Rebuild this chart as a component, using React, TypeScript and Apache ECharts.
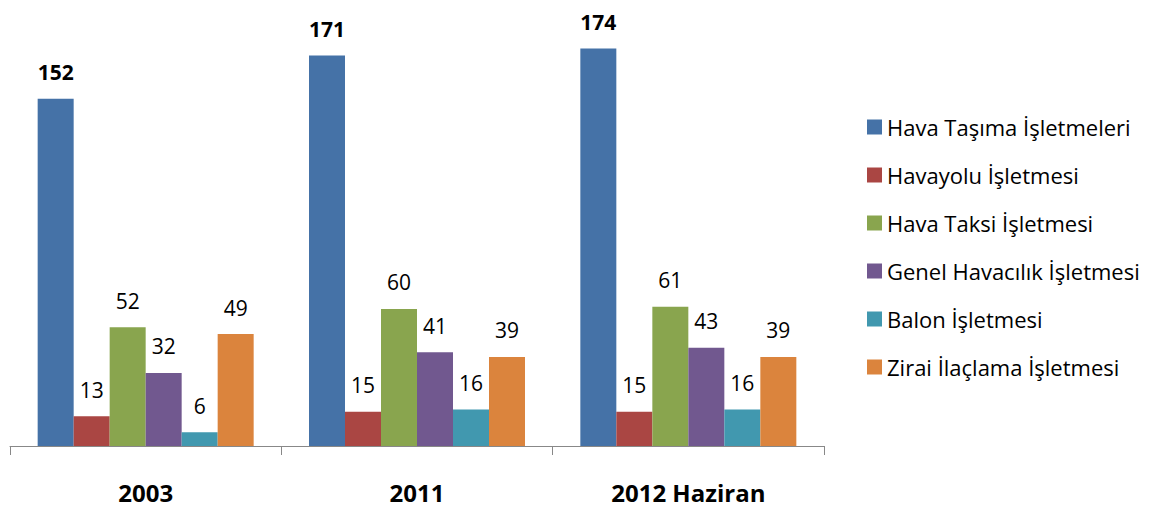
import React, { useEffect, useRef } from "react";
import * as echarts from "echarts";

const categories = ["2003", "2011", "2012 Haziran"];
const seriesNames = [
  "Hava Taşıma İşletmeleri",
  "Havayolu İşletmesi",
  "Hava Taksi İşletmesi",
  "Genel Havacılık İşletmesi",
  "Balon İşletmesi",
  "Zirai İlaçlama İşletmesi",
];
const havaTasima = [152, 171, 174];
const havayolu = [13, 15, 15];
const havaTaksi = [52, 60, 61];
const genelHavacilik = [32, 41, 43];
const balon = [6, 16, 16];
const zirai = [49, 39, 39];
const seriesValues = [havaTasima, havayolu, havaTaksi, genelHavacilik, balon, zirai];
const colors = ["#4572A7", "#AA4643", "#89A54E", "#71588F", "#4198AF", "#DB843D"];

const FONT = "'Open Sans', sans-serif";

export default function App() {
  const ref = useRef<HTMLDivElement>(null);
  useEffect(() => {
    if (!ref.current) return;
    const chart = echarts.init(ref.current, undefined, { renderer: "svg" });
    chart.setOption({
      animation: false,
      textStyle: { fontFamily: FONT },
      grid: { left: 10, right: 341, top: 12, bottom: 61 },
      legend: {
        orient: "vertical",
        left: 867,
        top: 116,
        padding: 0,
        itemWidth: 15,
        itemHeight: 15,
        itemGap: 26,
        icon: "rect",
        textStyle: { fontSize: 22, color: "#000", fontFamily: FONT },
        data: seriesNames,
      },
      xAxis: {
        type: "category",
        data: categories,
        axisLine: { lineStyle: { color: "#888888", width: 1 } },
        axisTick: { show: true, length: 9, lineStyle: { color: "#888888" } },
        axisLabel: { fontSize: 24, fontWeight: "bold", color: "#000", margin: 34, fontFamily: FONT },
      },
      yAxis: {
        type: "value",
        min: 0,
        max: 190,
        show: false,
        splitLine: { show: false },
      },
      series: seriesNames.map((name, i) => ({
        name,
        type: "bar",
        data: seriesValues[i],
        barWidth: 36,
        barGap: "0%",
        itemStyle: { color: colors[i] },
        label: {
          show: true,
          position: "top",
          distance: 16,
          fontSize: 21,
          fontFamily: FONT,
          color: "#000",
          fontWeight: i === 0 ? "bold" : "normal",
        },
      })),
    });
    return () => chart.dispose();
  }, []);
  return (
    <div
      ref={ref}
      style={{ position: "fixed", left: 0, top: 0, width: 1165, height: 507, background: "#fff" }}
    />
  );
}
